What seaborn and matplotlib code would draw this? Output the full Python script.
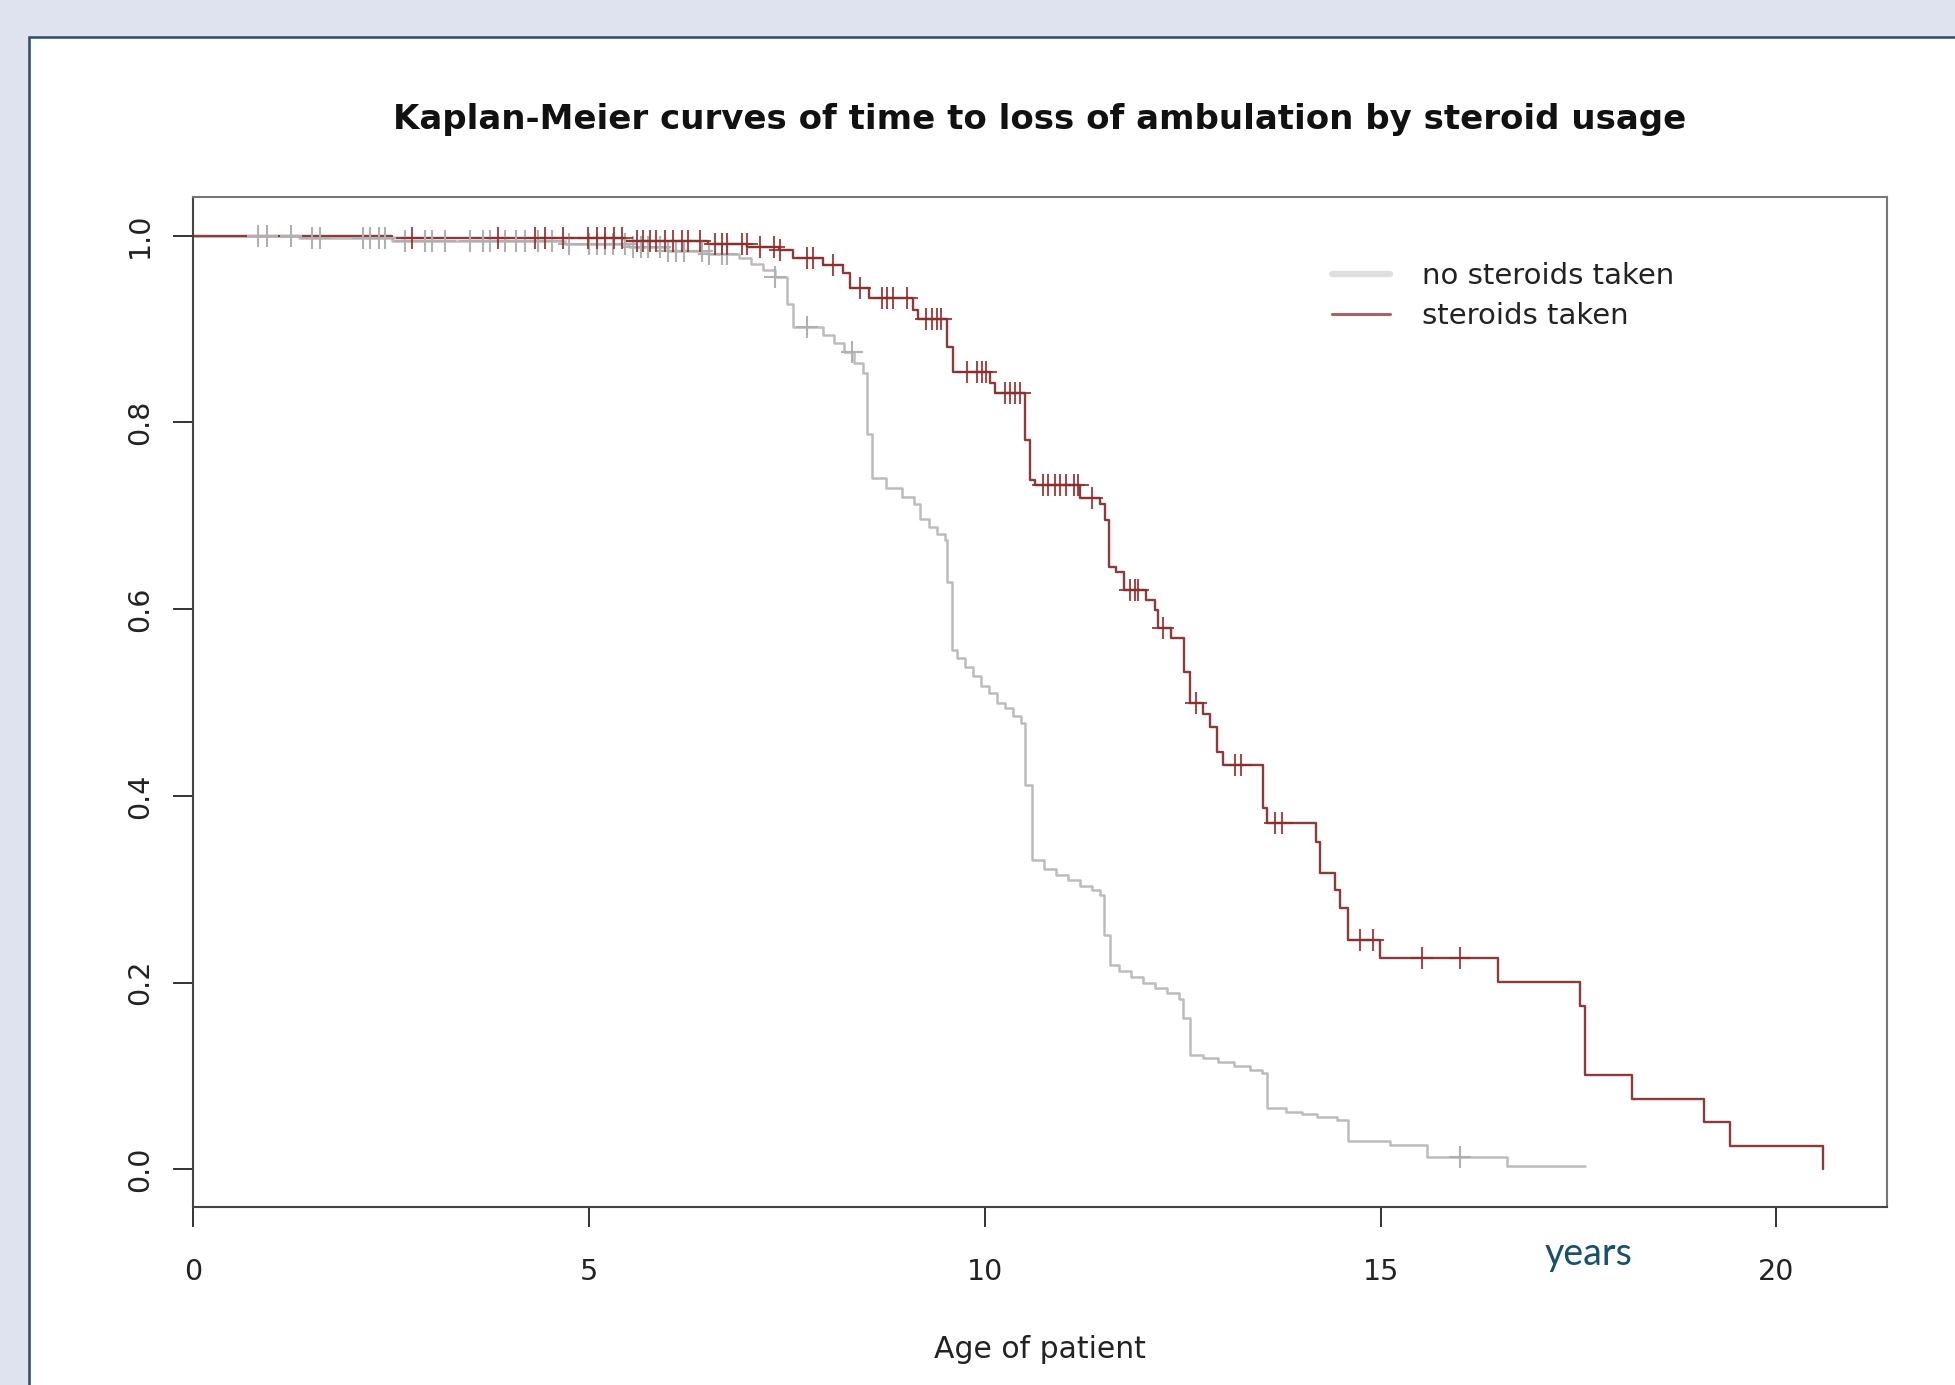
import numpy as np
import matplotlib
matplotlib.use("Agg")
import matplotlib.pyplot as plt
from matplotlib.lines import Line2D
from matplotlib.patches import Rectangle
import seaborn as sns

# Kaplan-Meier Stufen: Zeit (Jahre) und Überlebensanteil nach der Stufe
no_ster_time = [0.0, 1.33, 2.51, 4.70, 5.50, 6.00, 6.50, 6.90, 7.05, 7.20, 7.35, 7.50, 7.58,
                7.96, 8.10, 8.22, 8.35, 8.46, 8.51, 8.57, 8.75, 8.95, 9.10, 9.18, 9.30, 9.40,
                9.49, 9.52, 9.58, 9.65, 9.75, 9.85, 9.95, 10.05, 10.15, 10.25, 10.35, 10.45,
                10.51, 10.59, 10.75, 10.90, 11.05, 11.20, 11.35, 11.45, 11.51, 11.58, 11.70,
                11.85, 12.00, 12.15, 12.30, 12.45, 12.50, 12.59, 12.75, 12.95, 13.15, 13.35,
                13.50, 13.57, 13.80, 14.00, 14.20, 14.45, 14.59, 15.12, 15.58, 16.59, 17.58]
no_ster_surv = [1.000, 0.997, 0.994, 0.991, 0.988, 0.984, 0.980, 0.976, 0.970, 0.963, 0.956,
                0.927, 0.902, 0.894, 0.885, 0.875, 0.864, 0.853, 0.788, 0.740, 0.730, 0.720,
                0.713, 0.696, 0.688, 0.680, 0.674, 0.629, 0.556, 0.548, 0.538, 0.528, 0.518,
                0.510, 0.500, 0.494, 0.486, 0.478, 0.412, 0.331, 0.322, 0.315, 0.310, 0.304,
                0.299, 0.294, 0.251, 0.219, 0.213, 0.206, 0.200, 0.194, 0.189, 0.183, 0.162,
                0.123, 0.119, 0.115, 0.111, 0.107, 0.103, 0.066, 0.062, 0.059, 0.056, 0.053,
                0.030, 0.026, 0.013, 0.004, 0.004]
no_ster_cens = [0.82, 0.93, 1.24, 1.50, 1.60, 2.15, 2.23, 2.34, 2.42, 2.67, 2.93, 3.01, 3.18,
                3.49, 3.66, 3.75, 3.94, 4.08, 4.19, 4.36, 4.53, 4.74, 5.00, 5.10, 5.20, 5.30,
                5.45, 5.55, 5.65, 5.75, 5.90, 6.00, 6.10, 6.20, 6.42, 6.51, 6.68, 6.74, 7.35,
                7.75, 8.32, 16.0]

ster_time = [0.0, 2.51, 5.45, 6.50, 7.00, 7.40, 7.57, 7.95, 8.21, 8.30, 8.53, 9.09, 9.16,
             9.52, 9.60, 10.06, 10.13, 10.51, 10.57, 10.63, 11.20, 11.45, 11.52, 11.57,
             11.65, 11.76, 12.04, 12.15, 12.19, 12.35, 12.51, 12.59, 12.76, 12.84, 12.93,
             13.01, 13.51, 13.56, 14.18, 14.23, 14.42, 14.48, 14.59, 14.99, 16.48, 17.52,
             17.58, 18.17, 19.09, 19.41, 20.59]
ster_surv = [1.000, 0.997, 0.994, 0.991, 0.988, 0.985, 0.976, 0.968, 0.960, 0.944, 0.933,
             0.920, 0.911, 0.881, 0.854, 0.842, 0.831, 0.781, 0.738, 0.733, 0.719, 0.713,
             0.695, 0.645, 0.640, 0.620, 0.610, 0.599, 0.580, 0.569, 0.533, 0.499, 0.488,
             0.474, 0.447, 0.433, 0.387, 0.371, 0.351, 0.317, 0.299, 0.280, 0.246, 0.226,
             0.201, 0.175, 0.101, 0.075, 0.051, 0.025, 0.000]
ster_cens = [2.76, 3.85, 4.32, 4.44, 4.67, 4.99, 5.10, 5.20, 5.31, 5.41, 5.60, 5.68, 5.77,
             5.85, 5.96, 6.06, 6.17, 6.25, 6.40, 6.59, 6.68, 6.74, 6.93, 6.99, 7.16, 7.33,
             7.41, 7.75, 7.83, 8.08, 8.42, 8.70, 8.76, 8.84, 9.01, 9.26, 9.33, 9.39, 9.45,
             9.77, 9.90, 9.96, 10.02, 10.25, 10.32, 10.38, 10.44, 10.74, 10.80, 10.88, 10.95,
             11.03, 11.12, 11.18, 11.35, 11.83, 11.90, 11.94, 12.25, 12.67, 13.16, 13.24,
             13.66, 13.75, 14.74, 14.90, 15.52, 16.0]

group_labels = ["no steroids taken", "steroids taken"]
x_ticks = [0, 5, 10, 15, 20]
y_ticks = [0.0, 0.2, 0.4, 0.6, 0.8, 1.0]


def surv_at(times, surv, t):
    # Überlebensanteil an den zensierten Zeitpunkten
    idx = np.searchsorted(times, t, side="right") - 1
    return np.asarray(surv)[idx]


sns.set_style("white")
plt.rcParams["font.family"] = ["DejaVu Sans"]

fig = plt.figure(figsize=(19.55, 13.85), dpi=100)
fig.patch.set_facecolor("#dfe3f0")
# weisse Fläche mit dunklem Rahmen
panel = Rectangle((29 / 1955, -0.05), 1.2, 1 - 37 / 1385 + 0.05,
                  transform=fig.transFigure, facecolor="white",
                  edgecolor="#2b4a66", lw=1.8, zorder=-5)
fig.add_artist(panel)

ax = fig.add_axes([193.3 / 1955, 178 / 1385, 1694 / 1955, 1010 / 1385])
ax.set_zorder(2)

grey = "#bcbcbc"
red = "#8c3a3a"

sns.lineplot(x=no_ster_time, y=no_ster_surv, drawstyle="steps-post", color=grey,
             lw=1.8, ax=ax, estimator=None, sort=False)
sns.lineplot(x=ster_time, y=ster_surv, drawstyle="steps-post", color=red,
             lw=1.7, ax=ax, estimator=None, sort=False)

ax.plot(no_ster_cens, surv_at(no_ster_time, no_ster_surv, no_ster_cens), "+",
        color="#b0b0b0", ms=16, mew=1.5)
ax.plot(ster_cens, surv_at(ster_time, ster_surv, ster_cens), "+",
        color="#8b2e2e", ms=16, mew=1.5, alpha=0.85)

ax.set_xlim(0, 21.40)
ax.set_ylim(-0.0402, 1.0413)
ax.set_xticks(x_ticks)
ax.set_xticklabels([str(t) for t in x_ticks])
ax.set_yticks(y_ticks)
ax.set_yticklabels([f"{t:.1f}" for t in y_ticks], rotation=90, va="center")

ax.tick_params(axis="both", direction="out", length=14.5, width=1.4, color="#333333",
               labelsize=20.5, labelcolor="#222222", bottom=True, left=True)
ax.tick_params(axis="x", pad=22)
ax.tick_params(axis="y", pad=14)

for name, sp in ax.spines.items():
    sp.set_visible(True)
    sp.set_linewidth(1.5)
    sp.set_color("#444444" if name in ("left", "bottom") else "#777777")

ax.set_facecolor("white")
ax.grid(False)

fig.text(1040 / 1955, 1 - 120 / 1385, "Kaplan-Meier curves of time to loss of ambulation by steroid usage",
         ha="center", va="center", fontsize=24.5, fontweight="bold", color="#111111")
fig.text(1040 / 1955, 1 - 1350 / 1385, "Age of patient", ha="center", va="center",
         fontsize=21.5, color="#222222")
fig.text(1589 / 1955, 1 - 1265 / 1385, "years", ha="center", va="baseline",
         fontsize=27, color="#17506a", family=["Lato", "DejaVu Sans"])

handles = [Line2D([], [], color="#dedede", lw=4.5),
           Line2D([], [], color="#a86262", lw=2.2)]
ax.legend(handles, group_labels, loc="upper left", bbox_to_anchor=(1332 / 1955, 1 - 262 / 1385),
          bbox_transform=fig.transFigure, frameon=False, fontsize=21, handlelength=2.0,
          handletextpad=1.1, labelspacing=0.42, borderpad=0, borderaxespad=0,
          labelcolor="#222222")

fig.savefig("out.png", dpi=100, facecolor=fig.get_facecolor())
